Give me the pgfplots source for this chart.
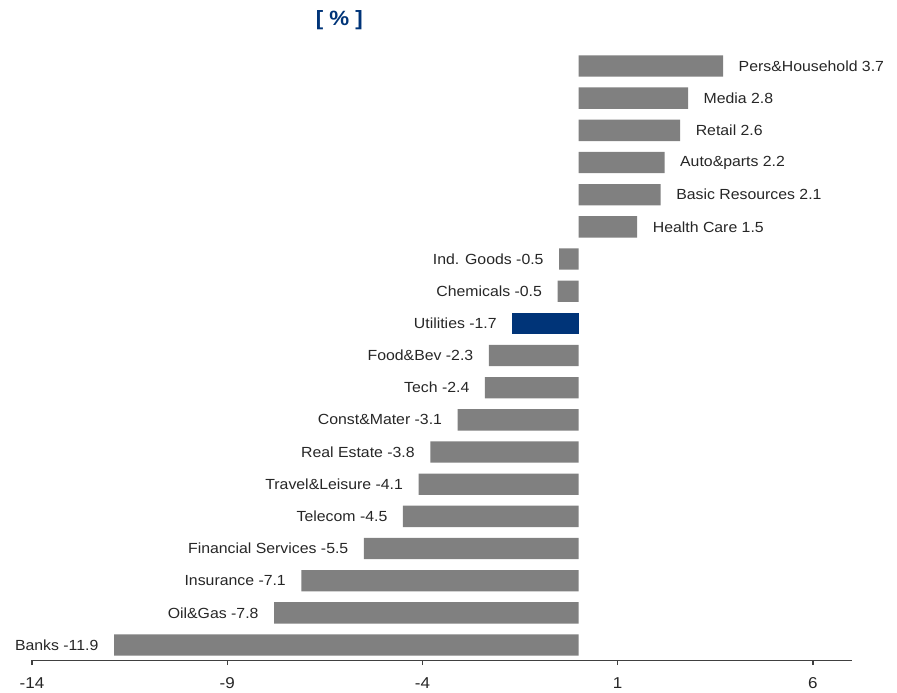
\documentclass[border=0pt]{standalone}
\usepackage{pgfplots}
\pgfplotsset{compat=1.18}
\usepackage{fontspec}
\setmainfont{Liberation Sans}[FakeStretch=1.08]
\definecolor{barg}{HTML}{808080}
\definecolor{barb}{HTML}{003478}
\definecolor{axg}{HTML}{404040}
\definecolor{txt}{HTML}{262626}
\begin{document}
\begin{tikzpicture}
\path[use as bounding box] (0pt,0pt) rectangle (672.75pt,519.75pt);
\node[font=\bfseries\fontsize{15.5}{18}\selectfont, text=barb] at (254.5pt,504.5pt) {[ \% ]};
\begin{axis}[
  at={(24pt,24.375pt)}, anchor=south west,
  scale only axis, width=615pt, height=460.35pt,
  xmin=-14, xmax=7, ymin=-0.48, ymax=18.6,
  axis x line*=bottom, axis y line=none,
  ytick=\empty,
  xtick={-14,-9,-4,1,6}, xticklabels={-14,-9,-4,1,6},
  tick align=outside, major tick length=3.5pt,
  x axis line style={line width=1.3pt, color=axg},
  xtick style={line width=1pt, color=axg},
  xticklabel style={font=\fontsize{11.8}{13}\selectfont, text=txt, yshift=-5.5pt},
  xbar, bar width=16pt, bar shift=0pt,
  point meta=explicit symbolic,
  nodes near coords={\pgfplotspointmeta},
  nodes near coords style={font=\fontsize{11}{13}\selectfont, text=txt, inner xsep=11.5pt, inner ysep=0pt},
  clip=false,
]
\addplot[fill=barg, draw=none, every node near coord/.append style={anchor=west}] coordinates {
(3.7,18) [Pers\&Household 3.7]
(2.8,17) [Media 2.8]
(2.6,16) [Retail 2.6]
(2.2,15) [Auto\&parts 2.2]
(2.1,14) [Basic Resources 2.1]
(1.5,13) [Health Care 1.5]
};
\addplot[fill=barg, draw=none, every node near coord/.append style={anchor=east}] coordinates {
(-0.5,12) [Ind. Goods -0.5]
(-0.54,11) [Chemicals -0.5]
(-2.3,9) [Food\&Bev -2.3]
(-2.4,8) [Tech -2.4]
(-3.1,7) [Const\&Mater -3.1]
(-3.8,6) [Real Estate -3.8]
(-4.1,5) [Travel\&Leisure -4.1]
(-4.5,4) [Telecom -4.5]
(-5.5,3) [Financial Services -5.5]
(-7.1,2) [Insurance -7.1]
(-7.8,1) [Oil\&Gas -7.8]
(-11.9,0) [Banks -11.9]
};
\addplot[fill=barb, draw=none, every node near coord/.append style={anchor=east}] coordinates {
(-1.7,10) [Utilities -1.7]
};
\end{axis}
\end{tikzpicture}
\end{document}
